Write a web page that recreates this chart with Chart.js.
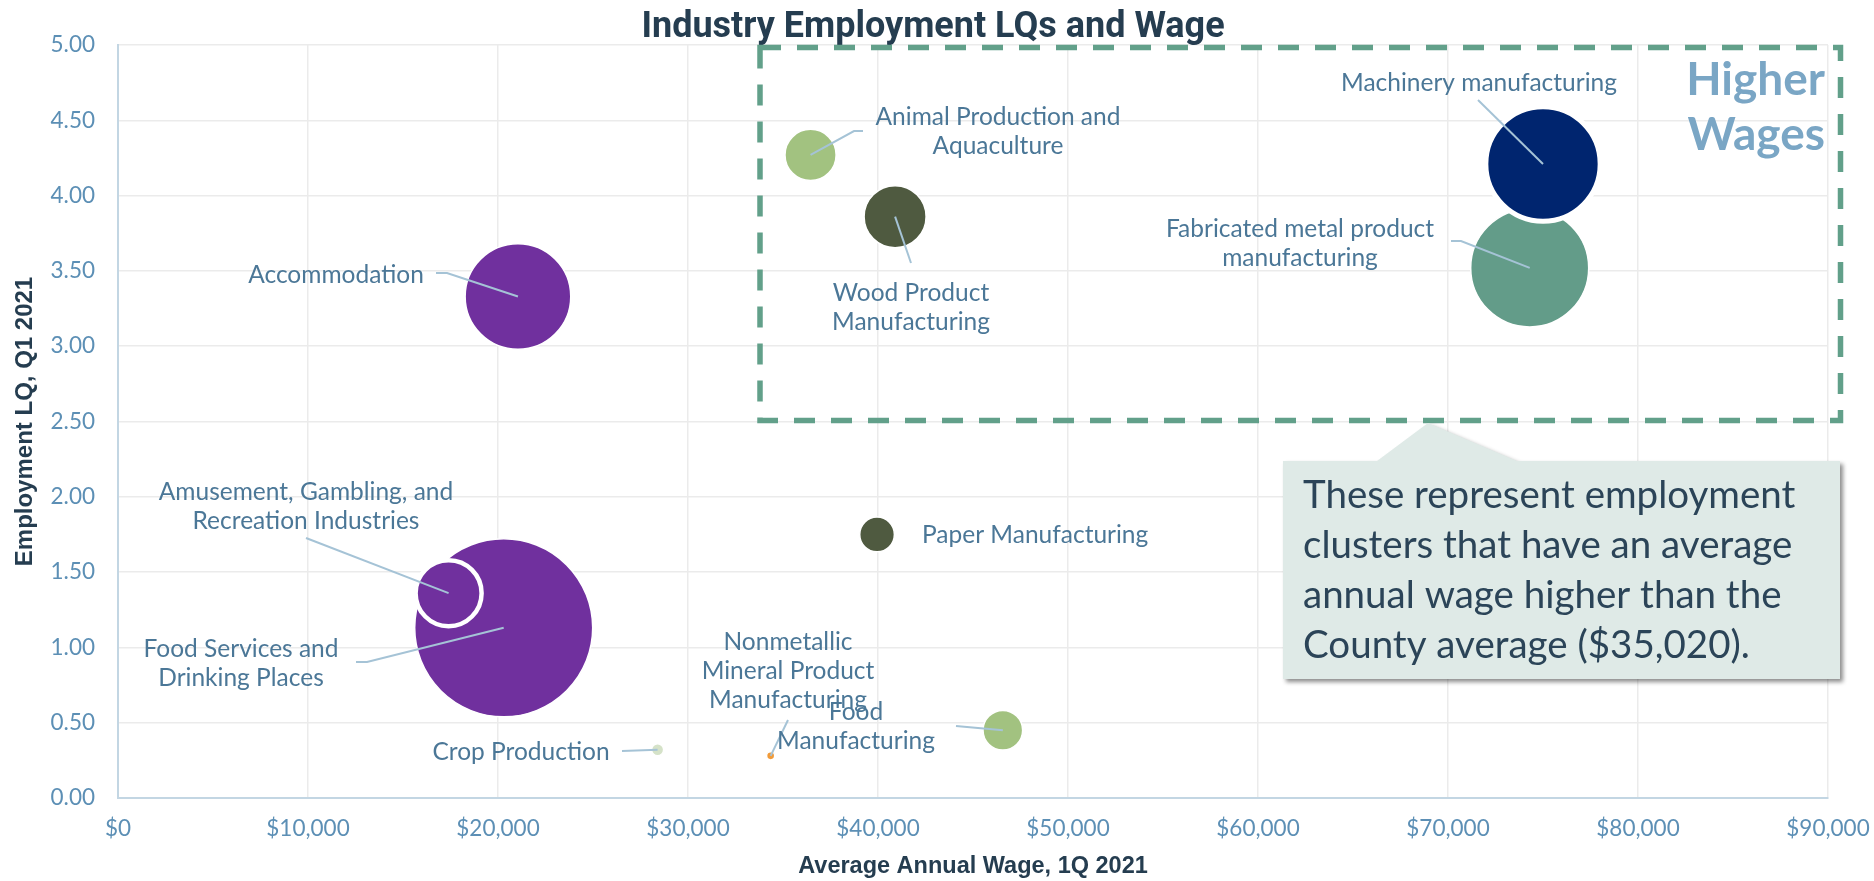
<!DOCTYPE html>
<html>
<head>
<meta charset="utf-8">
<title>Industry Employment LQs and Wage</title>
<script src="https://cdn.jsdelivr.net/npm/chart.js@4.4.1/dist/chart.umd.min.js"></script>
<style>
  body { margin: 0; background: #fff; overflow: hidden; }
  #wrap { width: 1874px; height: 881px; position: relative; }
</style>
</head>
<body>
<div id="wrap"><canvas id="myChart"></canvas></div>
<script>
// industries, in drawing order (later ones sit on top)
var industries = [
  "Crop Production",
  "Nonmetallic Mineral Product Manufacturing",
  "Food Manufacturing",
  "Paper Manufacturing",
  "Animal Production and Aquaculture",
  "Wood Product Manufacturing",
  "Accommodation",
  "Fabricated metal product manufacturing",
  "Machinery manufacturing",
  "Food Services and Drinking Places",
  "Amusement, Gambling, and Recreation Industries",
];
// average annual wage, 1Q 2021
var wages = [28400, 34350, 46570, 39950, 36450, 40900, 21050, 74300, 75000, 20300, 17400];
// employment LQ, Q1 2021
var lqs = [0.32, 0.28, 0.45, 1.75, 4.27, 3.86, 3.33, 3.52, 4.21, 1.13, 1.36];
// employment (bubble size)
var employment = [11, 5, 119, 91, 198, 291, 845, 1055, 990, 2400, 330];

var xTicks = [0, 10000, 20000, 30000, 40000, 50000, 60000, 70000, 80000, 90000];
var yTicks = [0, 0.5, 1, 1.5, 2, 2.5, 3, 3.5, 4, 4.5, 5];

var chartTitle = "Industry Employment LQs and Wage";
var xTitle = "Average Annual Wage, 1Q 2021";
var yTitle = "Employment LQ, Q1 2021";
var calloutLines = [
  "These represent employment",
  "clusters that have an average",
  "annual wage higher than the",
  "County average ($35,020).",
];

// styles
var bubbleColors = ["#D5E2C8", "#F19A38", "#A2C280", "#4F5A40", "#A2C280", "#4F5A40",
  "#70309E", "#639C89", "#00256F", "#70309E", "#70309E"];
var borderWidths = [1.5, 1.5, 1.5, 1.5, 1.5, 1.5, 1.5, 1.5, 5, 1.5, 4.5];
var maxR = 89;

// label placement (pixels): lines, anchor x, first line y, align, leader points
var labelLayout = [
  { lines: ["Crop Production"], x: 521, y: 752, align: "center", leader: [[622, 751]] },
  { lines: ["Nonmetallic", "Mineral Product", "Manufacturing"], x: 788, y: 642, align: "center", leader: [[788, 720]] },
  { lines: ["Food", "Manufacturing"], x: 856, y: 712, align: "center", leader: [[956, 726]] },
  { lines: ["Paper Manufacturing"], x: 922, y: 535, align: "left", leader: null },
  { lines: ["Animal Production and", "Aquaculture"], x: 998, y: 117, align: "center", leader: [[863, 131], [854, 131]] },
  { lines: ["Wood Product", "Manufacturing"], x: 911, y: 293, align: "center", leader: [[911, 263]] },
  { lines: ["Accommodation"], x: 336, y: 275, align: "center", leader: [[436, 273], [447, 273]] },
  { lines: ["Fabricated metal product", "manufacturing"], x: 1300, y: 229, align: "center", leader: [[1451, 241], [1461, 241]] },
  { lines: ["Machinery manufacturing"], x: 1479, y: 83, align: "center", leader: [[1478, 100]] },
  { lines: ["Food Services and", "Drinking Places"], x: 241, y: 649, align: "center", leader: [[356, 662], [367, 662]] },
  { lines: ["Amusement, Gambling, and", "Recreation Industries"], x: 306, y: 492, align: "center", leader: [[306, 538]] },
];

var bubbleData = [];
for (var i = 0; i < industries.length; i++) {
  bubbleData.push({
    x: wages[i],
    y: lqs[i],
    r: maxR * Math.sqrt(employment[i] / Math.max.apply(null, employment)),
  });
}

var tickColor = "#5C8FB5";
var labelColor = "#4B7797";
var darkText = "#253D50";

// labels, leader lines, dashed box, callout, titles
var annotations = {
  id: "annotations",
  afterDatasetsDraw: function (chart) {
    var ctx = chart.ctx;
    var xs = chart.scales.x;
    var ys = chart.scales.y;
    ctx.save();

    // chart title
    ctx.fillStyle = darkText;
    ctx.font = "bold 36px Roboto";
    ctx.textAlign = "center";
    ctx.textBaseline = "alphabetic";
    ctx.fillText(chartTitle, 933, 37);

    // dashed "higher wages" box
    ctx.strokeStyle = "#62A08A";
    ctx.lineWidth = 5.5;
    ctx.setLineDash([21, 16]);
    ctx.strokeRect(760, 47.5, 1080.5, 373);
    ctx.setLineDash([]);

    ctx.fillStyle = "#7AA6C5";
    ctx.font = "bold 46px Lato";
    ctx.textAlign = "right";
    ctx.fillText("Higher", 1825, 95);
    ctx.fillText("Wages", 1825, 150);

    // leader lines
    ctx.strokeStyle = "#A5C3D6";
    ctx.lineWidth = 2;
    labelLayout.forEach(function (lab, i) {
      if (!lab.leader) return;
      ctx.beginPath();
      ctx.moveTo(lab.leader[0][0], lab.leader[0][1]);
      for (var k = 1; k < lab.leader.length; k++) ctx.lineTo(lab.leader[k][0], lab.leader[k][1]);
      ctx.lineTo(xs.getPixelForValue(wages[i]), ys.getPixelForValue(lqs[i]));
      ctx.stroke();
    });

    // data labels
    ctx.fillStyle = labelColor;
    ctx.font = "24.5px Lato";
    ctx.textBaseline = "middle";
    labelLayout.forEach(function (lab) {
      ctx.textAlign = lab.align;
      lab.lines.forEach(function (t, k) {
        ctx.fillText(t, lab.x, lab.y + k * 29);
      });
    });

    // callout
    ctx.save();
    ctx.shadowColor = "rgba(0,0,0,0.45)";
    ctx.shadowBlur = 4;
    ctx.shadowOffsetX = 3;
    ctx.shadowOffsetY = 3;
    ctx.fillStyle = "#DFEAE7";
    ctx.beginPath();
    ctx.moveTo(1283, 461);
    ctx.lineTo(1377, 461);
    ctx.lineTo(1428, 423);
    ctx.lineTo(1517, 461);
    ctx.lineTo(1840, 461);
    ctx.lineTo(1840, 679);
    ctx.lineTo(1283, 679);
    ctx.closePath();
    ctx.fill();
    ctx.restore();

    ctx.fillStyle = "#2B4458";
    ctx.font = "38.5px Lato";
    ctx.textAlign = "left";
    ctx.textBaseline = "alphabetic";
    calloutLines.forEach(function (t, k) {
      ctx.fillText(t, 1303, 508 + k * 50);
    });

    // y axis title
    ctx.save();
    ctx.translate(25, 421.5);
    ctx.rotate(-Math.PI / 2);
    ctx.fillStyle = darkText;
    ctx.font = "bold 24px 'Liberation Sans'";
    ctx.textAlign = "center";
    ctx.textBaseline = "middle";
    ctx.fillText(yTitle, 0, 0);
    ctx.restore();

    ctx.restore();
  },
};

Chart.defaults.font.family = "Lato";

var ctx = document.getElementById("myChart").getContext("2d");
var myChart = new Chart(ctx, {
  type: "bubble",
  data: {
    datasets: [
      {
        label: "Industries",
        data: bubbleData,
        backgroundColor: bubbleColors,
        borderColor: "#ffffff",
        borderWidth: borderWidths,
      },
    ],
  },
  options: {
    responsive: true,
    maintainAspectRatio: false,
    animation: false,
    events: [],
    layout: { autoPadding: false, padding: { left: 0, right: 46, top: 45, bottom: 0 } },
    plugins: {
      legend: { display: false },
      tooltip: { enabled: false },
      title: { display: false },
    },
    scales: {
      x: {
        type: "linear",
        min: xTicks[0],
        max: xTicks[xTicks.length - 1],
        afterBuildTicks: function (s) {
          s.ticks = xTicks.map(function (v) { return { value: v }; });
        },
        afterFit: function (s) {
          s.height = 83;
          s.paddingLeft = 0;
          s.paddingRight = 0;
        },
        ticks: {
          color: tickColor,
          font: { size: 22.5 },
          padding: 17,
          maxRotation: 0,
          callback: function (v) { return "$" + v.toLocaleString("en-US"); },
        },
        grid: { color: "#EBEBEB", lineWidth: 1.5, drawTicks: false },
        border: { color: "#C3D6E3", width: 2 },
        title: {
          display: true,
          text: xTitle,
          color: darkText,
          font: { family: "'Liberation Sans'", size: 23.5, weight: "bold" },
          padding: 0,
        },
      },
      y: {
        min: yTicks[0],
        max: yTicks[yTicks.length - 1],
        afterBuildTicks: function (s) {
          s.ticks = yTicks.map(function (v) { return { value: v }; });
        },
        afterFit: function (s) {
          s.width = 118;
          s.paddingTop = 0;
          s.paddingBottom = 0;
        },
        ticks: {
          color: tickColor,
          font: { size: 22.5 },
          padding: 23,
          callback: function (v) { return v.toFixed(2); },
        },
        grid: { color: "#EBEBEB", lineWidth: 1.5, drawTicks: false },
        border: { color: "#C3D6E3", width: 2 },
      },
    },
  },
  plugins: [annotations],
});
</script>
</body>
</html>
